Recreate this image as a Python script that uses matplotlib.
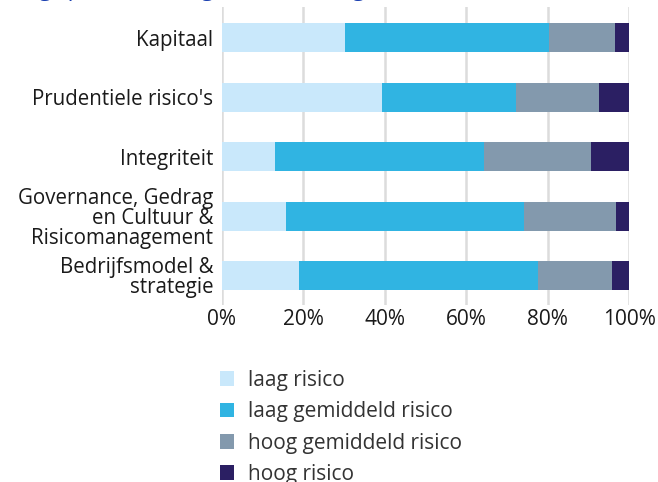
import matplotlib
matplotlib.use("Agg")
import matplotlib.pyplot as plt
from matplotlib.patches import Patch
import numpy as np

categories = ["Kapitaal", "Prudentiele risico's", "Integriteit",
              "Governance, Gedrag\nen Cultuur &\nRisicomanagement",
              "Bedrijfsmodel &\nstrategie"]
series_names = ["laag risico", "laag gemiddeld risico", "hoog gemiddeld risico", "hoog risico"]
laag = [30.3, 39.4, 13.1, 15.8, 19.0]
laag_gem = [50.1, 32.9, 51.2, 58.3, 58.6]
hoog_gem = [16.2, 20.3, 26.4, 22.7, 18.2]
hoog = [3.4, 7.4, 9.3, 3.2, 4.2]
colors = ["#c9e8fb", "#30b4e2", "#8399ad", "#2b1f63"]
xticks = [0, 20, 40, 60, 80, 100]
xticklabels = ["0%", "20%", "40%", "60%", "80%", "100%"]

plt.rcParams['font.family'] = ['Open Sans', 'DejaVu Sans']

fig = plt.figure(figsize=(6.58, 4.82), dpi=100)
ax = fig.add_axes([0.337, 0.367, 0.619, 0.618])

y = np.arange(len(categories))
left = np.zeros(len(categories))
for vals, c, name in zip([laag, laag_gem, hoog_gem, hoog], colors, series_names):
    ax.barh(y, vals, left=left, height=0.487, color=c, label=name, zorder=3)
    left += np.array(vals)

ax.set_xlim(0, 100)
ax.set_ylim(4.495, -0.51)
ax.set_yticks(y)
ax.set_yticklabels(categories, fontsize=14.8, color="#1a1a1a", linespacing=0.95)
ax.set_xticks(xticks)
ax.set_xticklabels(xticklabels, fontsize=15, color="#1a1a1a")
ax.tick_params(length=0, pad=6)
ax.tick_params(axis='x', pad=3)
for s in ax.spines.values():
    s.set_visible(False)
ax.grid(axis='x', color="#dcdcdc", linewidth=1.8, zorder=0)

# clipped title at the very top (only descenders visible in the reference)
fig.text(-0.021, 1.008, "Ratings per toezichtsgebied en categorie", color="#1a3fb0",
         fontsize=16, va='baseline', ha='left')

handles = [Patch(facecolor=c, edgecolor='none') for c in colors]
fig.legend(handles, series_names, loc='upper left', bbox_to_anchor=(0.334, 0.233),
           frameon=False, fontsize=15, handlelength=0.7, handleheight=0.7,
           handletextpad=0.65, labelspacing=0.5, labelcolor="#333333", borderaxespad=0,
           borderpad=0)

fig.savefig("out.png", dpi=100)
